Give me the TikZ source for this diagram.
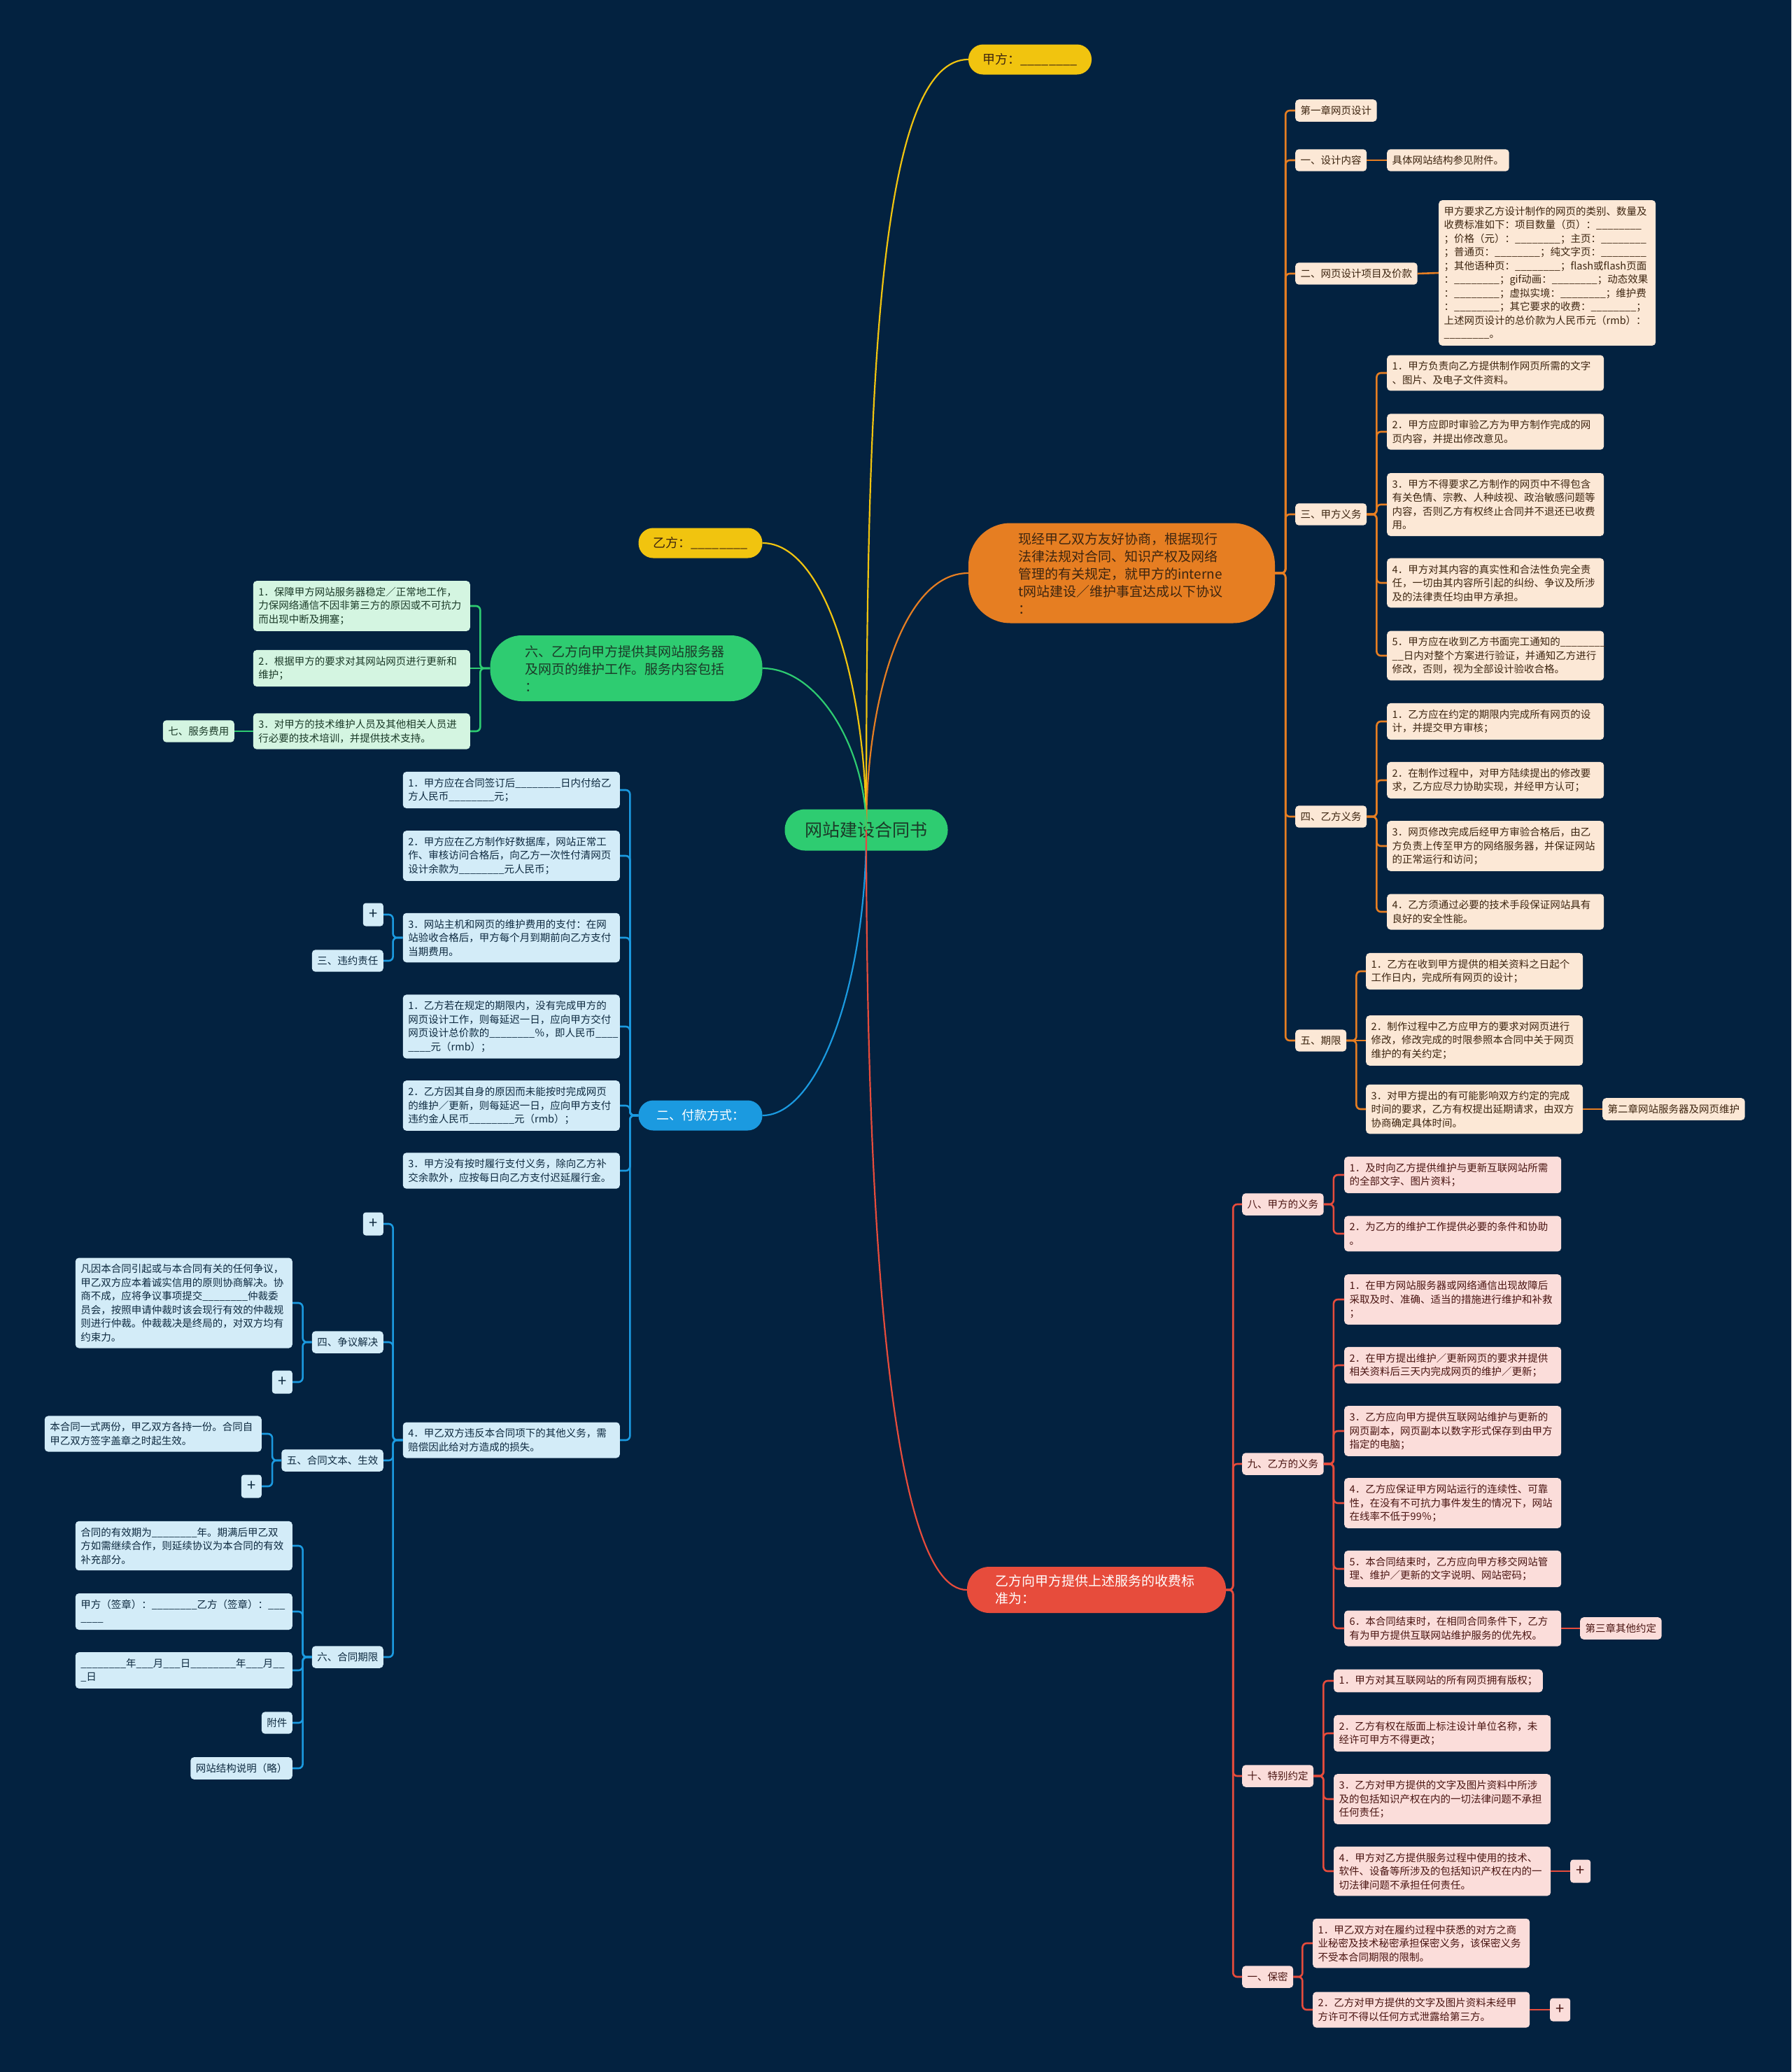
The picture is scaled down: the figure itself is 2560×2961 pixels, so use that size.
\documentclass[tikz,border=0pt]{standalone}
\usepackage{fontspec}
\setmainfont{Noto Sans CJK SC}

\newcommand{\blk}{\_\_\_\_\_\_\_\_}

\definecolor{bgc}{HTML}{032240}
\definecolor{cgreen}{HTML}{2ECC71}
\definecolor{cyellow}{HTML}{F1C40F}
\definecolor{corange}{HTML}{E67E22}
\definecolor{cblue}{HTML}{1B9AE0}
\definecolor{cred}{HTML}{E74C3C}
\definecolor{ofill}{HTML}{FCE8D6}
\definecolor{gfill}{HTML}{D4F5E1}
\definecolor{bfill}{HTML}{D3ECF8}
\definecolor{rfill}{HTML}{FBDDDA}
\definecolor{otext}{HTML}{3D2510}
\definecolor{gtext}{HTML}{1B3A28}
\definecolor{btext}{HTML}{0E2A40}
\definecolor{rtext}{HTML}{4A1512}

\tikzset{
  leaf/.style={rounded corners=5pt, inner xsep=7.5pt, inner ysep=9pt, align=left,
    font=\fontsize{14.5}{19.5}\selectfont},
  wide/.style={text width=295pt},
  oleaf/.style={leaf, fill=ofill, text=otext},
  gleaf/.style={leaf, fill=gfill, text=gtext},
  bleaf/.style={leaf, fill=bfill, text=btext},
  rleaf/.style={leaf, fill=rfill, text=rtext},
  plusbox/.style={rounded corners=4pt, minimum width=29pt, minimum height=33pt,
    inner sep=0pt, font=\fontsize{22}{22}\selectfont},
  pill/.style={rounded corners=21pt, minimum height=43pt, inner xsep=20pt,
    font=\fontsize{18}{24}\selectfont},
  bigpill/.style={align=left, font=\fontsize{19}{25}\selectfont},
  stem/.style={line width=2.2pt},
  link/.style={line width=2.6pt, rounded corners=6pt},
  olink/.style={link, draw=corange},
  glink/.style={link, draw=cgreen},
  blink/.style={link, draw=cblue},
  rlink/.style={link, draw=cred}
}

\begin{document}
\begin{tikzpicture}[x=1pt, y=-1pt]
\useasboundingbox (0,0) rectangle (2560,2961);
\fill[bgc] (0,0) rectangle (2560,2961);

% centre and first level
\node[fill=cgreen, text=gtext, rounded corners=29pt, minimum width=233pt, minimum height=59pt,
  font=\fontsize{25}{30}\selectfont] (root) at (1238,1186) {网站建设合同书};
\node[pill, fill=cyellow, text=otext, minimum width=176pt] (jia) at (1472,85) {甲方：\blk};
\node[pill, fill=cyellow, text=otext, minimum width=177pt] (yi) at (1001,776) {乙方：\blk};
\node[bigpill, fill=corange, text=otext, text width=296pt, minimum width=438pt, minimum height=143pt,
  rounded corners=60pt] (xian) at (1603,819)
  {现经甲乙双方友好协商，根据现行\\法律法规对合同、知识产权及网络\\管理的有关规定，就甲方的interne\\t网站建设／维护事宜达成以下协议\\：};
\node[bigpill, fill=cgreen, text=gtext, text width=290pt, minimum width=389pt, minimum height=94pt,
  rounded corners=45pt] (liu) at (895,955)
  {六、乙方向甲方提供其网站服务器\\及网页的维护工作。服务内容包括\\：};
\node[pill, fill=cblue, text=white, minimum width=177pt] (fukuan) at (1001,1594) {二、付款方式：};
\node[bigpill, fill=cred, text=white, text width=290pt, minimum width=370pt, minimum height=66pt,
  rounded corners=32pt] (shoufei) at (1567,2272) {乙方向甲方提供上述服务的收费标\\准为：};

\draw[stem, cyellow] (root.center) .. controls +(0,-590) and +(-134,0) .. (jia.west);
\draw[stem, cyellow] (root.center) .. controls +(0,-205) and +(90,0) .. (yi.east);
\draw[stem, corange] (root.center) .. controls +(0,-186) and +(-94,0) .. (xian.west);
\draw[stem, cgreen] (root.center) .. controls +(0,-116) and +(80,0) .. (liu.east);
\draw[stem, cblue] (root.center) .. controls +(0,220) and +(80,0) .. (fukuan.east);
\draw[stem, cred] (root.center) .. controls +(0,543) and +(-112,0) .. (shoufei.west);

% orange branch
\node[oleaf, anchor=west] (o1) at (1851,158) {第一章网页设计};
\node[oleaf, anchor=west] (o2) at (1851,229) {一、设计内容};
\node[oleaf, anchor=west] (o2a) at (1982,229) {具体网站结构参见附件。};
\node[oleaf, anchor=west] (o3) at (1851,391) {二、网页设计项目及价款};
\node[oleaf, wide, anchor=west] (o3a) at (2056,390)
  {甲方要求乙方设计制作的网页的类别、数量及\\收费标准如下：项目数量（页）：\blk\\；价格（元）：\blk；主页：\blk\\；普通页：\blk；纯文字页：\blk\\；其他语种页：\blk；flash或flash页面\\：\blk；gif动画：\blk；动态效果\\：\blk；虚拟实境：\blk；维护费\\：\blk；其它要求的收费：\blk；\\上述网页设计的总价款为人民币元（rmb）：\\\blk。};
\node[oleaf, anchor=west] (o4) at (1851,735) {三、甲方义务};
\node[oleaf, wide, anchor=west] (o4a) at (1982,533) {1．甲方负责向乙方提供制作网页所需的文字\\、图片、及电子文件资料。};
\node[oleaf, wide, anchor=west] (o4b) at (1982,617) {2．甲方应即时审验乙方为甲方制作完成的网\\页内容，并提出修改意见。};
\node[oleaf, wide, anchor=west] (o4c) at (1982,721) {3．甲方不得要求乙方制作的网页中不得包含\\有关色情、宗教、人种歧视、政治敏感问题等\\内容，否则乙方有权终止合同并不退还已收费\\用。};
\node[oleaf, wide, anchor=west] (o4d) at (1982,833) {4．甲方对其内容的真实性和合法性负完全责\\任，一切由其内容所引起的纠纷、争议及所涉\\及的法律责任均由甲方承担。};
\node[oleaf, wide, anchor=west] (o4e) at (1982,937) {5．甲方应在收到乙方书面完工通知的\blk\\\_\_日内对整个方案进行验证，并通知乙方进行\\修改，否则，视为全部设计验收合格。};
\node[oleaf, anchor=west] (o5) at (1851,1167) {四、乙方义务};
\node[oleaf, wide, anchor=west] (o5a) at (1982,1031) {1．乙方应在约定的期限内完成所有网页的设\\计，并提交甲方审核；};
\node[oleaf, wide, anchor=west] (o5b) at (1982,1115) {2．在制作过程中，对甲方陆续提出的修改要\\求，乙方应尽力协助实现，并经甲方认可；};
\node[oleaf, wide, anchor=west] (o5c) at (1982,1209) {3．网页修改完成后经甲方审验合格后，由乙\\方负责上传至甲方的网络服务器，并保证网站\\的正常运行和访问；};
\node[oleaf, wide, anchor=west] (o5d) at (1982,1303) {4．乙方须通过必要的技术手段保证网站具有\\良好的安全性能。};
\node[oleaf, anchor=west] (o6) at (1851,1487) {五、期限};
\node[oleaf, wide, anchor=west] (o6a) at (1952,1388) {1．乙方在收到甲方提供的相关资料之日起个\\工作日内，完成所有网页的设计；};
\node[oleaf, wide, anchor=west] (o6b) at (1952,1487) {2．制作过程中乙方应甲方的要求对网页进行\\修改，修改完成的时限参照本合同中关于网页\\维护的有关约定；};
\node[oleaf, wide, anchor=west] (o6c) at (1952,1585) {3．对甲方提出的有可能影响双方约定的完成\\时间的要求，乙方有权提出延期请求，由双方\\协商确定具体时间。};
\node[oleaf, anchor=west] (o7) at (2290,1585) {第二章网站服务器及网页维护};

\foreach \k in {1,...,6}
  \draw[olink] (xian.east) -- ++(15,0) |- (o\k.west);
\draw[olink] (o2.east) -- (o2a.west);
\draw[olink] (o3.east) -- (o3a.west);
\foreach \k in {a,b,c,d,e}
  \draw[olink] (o4.east) -- ++(14,0) |- (o4\k.west);
\foreach \k in {a,b,c,d}
  \draw[olink] (o5.east) -- ++(14,0) |- (o5\k.west);
\draw[olink] (o6.east) -- ++(14,0) |- (o6a.west);
\draw[olink] (o6.east) -- (o6b.west);
\draw[olink] (o6.east) -- ++(14,0) |- (o6c.west);
\draw[olink] (o6c.east) -- (o7.west);

% green branch
\node[gleaf, wide, anchor=east] (g1) at (672,866) {1．保障甲方网站服务器稳定／正常地工作，\\力保网络通信不因非第三方的原因或不可抗力\\而出现中断及拥塞；};
\node[gleaf, wide, anchor=east] (g2) at (672,955) {2．根据甲方的要求对其网站网页进行更新和\\维护；};
\node[gleaf, wide, anchor=east] (g3) at (672,1045) {3．对甲方的技术维护人员及其他相关人员进\\行必要的技术培训，并提供技术支持。};
\node[gleaf, anchor=east] (qi) at (335,1045) {七、服务费用};

\draw[glink] (liu.west) -- ++(-14,0) |- (g1.east);
\draw[glink] (liu.west) -- (g2.east);
\draw[glink] (liu.west) -- ++(-14,0) |- (g3.east);
\draw[glink] (g3.west) -- (qi.east);

% blue branch
\node[bleaf, wide, anchor=east] (b1) at (886,1129) {1．甲方应在合同签订后\blk 日内付给乙\\方人民币\blk 元；};
\node[bleaf, wide, anchor=east] (b2) at (886,1223) {2．甲方应在乙方制作好数据库，网站正常工\\作、审核访问合格后，向乙方一次性付清网页\\设计余款为\blk 元人民币；};
\node[bleaf, wide, anchor=east] (b3) at (886,1340) {3．网站主机和网页的维护费用的支付：在网\\站验收合格后，甲方每个月到期前向乙方支付\\当期费用。};
\node[bleaf, wide, anchor=east] (b4) at (886,1467) {1．乙方若在规定的期限内，没有完成甲方的\\网页设计工作，则每延迟一日，应向甲方交付\\网页设计总价款的\blk ％，即人民币\_\_\_\_\\\_\_\_\_元（rmb）；};
\node[bleaf, wide, anchor=east] (b5) at (886,1580) {2．乙方因其自身的原因而未能按时完成网页\\的维护／更新，则每延迟一日，应向甲方支付\\违约金人民币\blk 元（rmb）；};
\node[bleaf, wide, anchor=east] (b6) at (886,1673) {3．甲方没有按时履行支付义务，除向乙方补\\交余款外，应按每日向乙方支付迟延履行金。};
\node[bleaf, wide, anchor=east] (b7) at (886,2058) {4．甲乙双方违反本合同项下的其他义务，需\\赔偿因此给对方造成的损失。};

\node[bleaf, plusbox, anchor=east] (bp1) at (548,1307) {+};
\node[bleaf, anchor=east] (wy) at (548,1373) {三、违约责任};
\node[bleaf, plusbox, anchor=east] (bp2) at (548,1749) {+};
\node[bleaf, anchor=east] (zy) at (548,1918) {四、争议解决};
\node[bleaf, wide, anchor=east] (fy) at (418,1862) {凡因本合同引起或与本合同有关的任何争议，\\甲乙双方应本着诚实信用的原则协商解决。协\\商不成，应将争议事项提交\blk 仲裁委\\员会，按照申请仲裁时该会现行有效的仲裁规\\则进行仲裁。仲裁裁决是终局的，对双方均有\\约束力。};
\node[bleaf, plusbox, anchor=east] (bp3) at (418,1975) {+};
\node[bleaf, anchor=east] (wb) at (548,2087) {五、合同文本、生效};
\node[bleaf, wide, anchor=east] (yf) at (374,2049) {本合同一式两份，甲乙双方各持一份。合同自\\甲乙双方签字盖章之时起生效。};
\node[bleaf, plusbox, anchor=east] (bp4) at (374,2124) {+};
\node[bleaf, anchor=east] (qx) at (548,2368) {六、合同期限};
\node[bleaf, wide, anchor=east] (qx1) at (418,2209) {合同的有效期为\blk 年。期满后甲乙双\\方如需继续合作，则延续协议为本合同的有效\\补充部分。};
\node[bleaf, wide, anchor=east] (qx2) at (418,2303) {甲方（签章）：\blk 乙方（签章）：\_\_\_\\\_\_\_\_};
\node[bleaf, wide, anchor=east] (qx3) at (418,2387) {\blk 年\_\_\_月\_\_\_日\blk 年\_\_\_月\_\_\\\_日};
\node[bleaf, anchor=east] (qx4) at (418,2462) {附件};
\node[bleaf, anchor=east] (qx5) at (418,2527) {网站结构说明（略）};

\foreach \k in {1,...,7}
  \draw[blink] (fukuan.west) -- ++(-12,0) |- (b\k.east);
\draw[blink] (b3.west) -- ++(-14,0) |- (bp1.east);
\draw[blink] (b3.west) -- ++(-14,0) |- (wy.east);
\foreach \k in {bp2,zy,wb,qx}
  \draw[blink] (b7.west) -- ++(-14,0) |- (\k.east);
\draw[blink] (zy.west) -- ++(-13,0) |- (fy.east);
\draw[blink] (zy.west) -- ++(-13,0) |- (bp3.east);
\draw[blink] (wb.west) -- ++(-13,0) |- (yf.east);
\draw[blink] (wb.west) -- ++(-13,0) |- (bp4.east);
\foreach \k in {1,...,5}
  \draw[blink] (qx.west) -- ++(-13,0) |- (qx\k.east);

% red branch
\node[rleaf, anchor=west] (r1) at (1775,1721) {八、甲方的义务};
\node[rleaf, wide, anchor=west] (r1a) at (1921,1679) {1．及时向乙方提供维护与更新互联网站所需\\的全部文字、图片资料；};
\node[rleaf, wide, anchor=west] (r1b) at (1921,1763) {2．为乙方的维护工作提供必要的条件和协助\\。};
\node[rleaf, anchor=west] (r2) at (1775,2092) {九、乙方的义务};
\node[rleaf, wide, anchor=west] (r2a) at (1921,1857) {1．在甲方网站服务器或网络通信出现故障后\\采取及时、准确、适当的措施进行维护和补救\\；};
\node[rleaf, wide, anchor=west] (r2b) at (1921,1951) {2．在甲方提出维护／更新网页的要求并提供\\相关资料后三天内完成网页的维护／更新；};
\node[rleaf, wide, anchor=west] (r2c) at (1921,2045) {3．乙方应向甲方提供互联网站维护与更新的\\网页副本，网页副本以数字形式保存到由甲方\\指定的电脑；};
\node[rleaf, wide, anchor=west] (r2d) at (1921,2148) {4．乙方应保证甲方网站运行的连续性、可靠\\性，在没有不可抗力事件发生的情况下，网站\\在线率不低于99％；};
\node[rleaf, wide, anchor=west] (r2e) at (1921,2242) {5．本合同结束时，乙方应向甲方移交网站管\\理、维护／更新的文字说明、网站密码；};
\node[rleaf, wide, anchor=west] (r2f) at (1921,2327) {6．本合同结束时，在相同合同条件下，乙方\\有为甲方提供互联网站维护服务的优先权。};
\node[rleaf, anchor=west] (r2g) at (2258,2327) {第三章其他约定};
\node[rleaf, anchor=west] (r3) at (1775,2538) {十、特别约定};
\node[rleaf, anchor=west] (r3a) at (1906,2402) {1．甲方对其互联网站的所有网页拥有版权；};
\node[rleaf, wide, anchor=west] (r3b) at (1906,2477) {2．乙方有权在版面上标注设计单位名称，未\\经许可甲方不得更改；};
\node[rleaf, wide, anchor=west] (r3c) at (1906,2571) {3．乙方对甲方提供的文字及图片资料中所涉\\及的包括知识产权在内的一切法律问题不承担\\任何责任；};
\node[rleaf, wide, anchor=west] (r3d) at (1906,2674) {4．甲方对乙方提供服务过程中使用的技术、\\软件、设备等所涉及的包括知识产权在内的一\\切法律问题不承担任何责任。};
\node[rleaf, plusbox, anchor=west] (rp1) at (2244,2674) {+};
\node[rleaf, anchor=west] (r4) at (1775,2825) {一、保密};
\node[rleaf, wide, anchor=west] (r4a) at (1876,2777) {1．甲乙双方对在履约过程中获悉的对方之商\\业秘密及技术秘密承担保密义务，该保密义务\\不受本合同期限的限制。};
\node[rleaf, wide, anchor=west] (r4b) at (1876,2872) {2．乙方对甲方提供的文字及图片资料未经甲\\方许可不得以任何方式泄露给第三方。};
\node[rleaf, plusbox, anchor=west] (rp2) at (2215,2872) {+};

\foreach \k in {1,...,4}
  \draw[rlink] (shoufei.east) -- ++(10,0) |- (r\k.west);
\foreach \k in {a,b}
  \draw[rlink] (r1.east) -- ++(14,0) |- (r1\k.west);
\foreach \k in {a,b,c,d,e,f}
  \draw[rlink] (r2.east) -- ++(14,0) |- (r2\k.west);
\draw[rlink] (r2f.east) -- (r2g.west);
\foreach \k in {a,b,c,d}
  \draw[rlink] (r3.east) -- ++(14,0) |- (r3\k.west);
\draw[rlink] (r3d.east) -- (rp1.west);
\foreach \k in {a,b}
  \draw[rlink] (r4.east) -- ++(13,0) |- (r4\k.west);
\draw[rlink] (r4b.east) -- (rp2.west);
\end{tikzpicture}
\end{document}
